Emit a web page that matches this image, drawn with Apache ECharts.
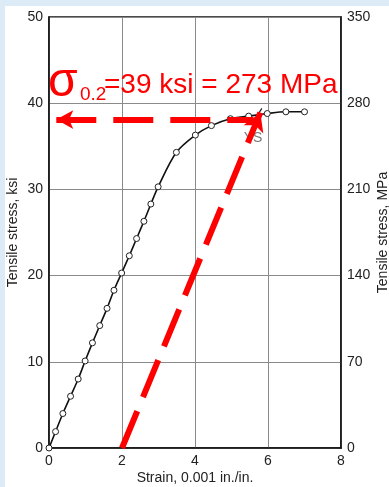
<!DOCTYPE html>
<html>
<head>
<meta charset="utf-8">
<script src="https://cdn.jsdelivr.net/npm/echarts@6/dist/echarts.min.js"></script>
<style>
html,body{margin:0;padding:0;background:#ffffff;}
#chart{width:389px;height:487px;}
</style>
</head>
<body>
<div id="chart"></div>
<script>
// Data
var strain = [0, 0.18, 0.38, 0.59, 0.8, 0.99, 1.19, 1.39, 1.59, 1.78, 1.99, 2.2, 2.4, 2.6, 2.79, 2.99, 3.49, 4.01, 4.45, 4.97, 5.47, 5.98, 6.49, 7.0];
var stressKsi = [0, 1.9, 4.0, 6.0, 8.0, 10.1, 12.2, 14.2, 16.2, 18.3, 20.3, 22.3, 24.3, 26.3, 28.3, 30.3, 34.3, 36.3, 37.4, 38.2, 38.5, 38.8, 39.0, 39.0];
var xTicks = [0, 2, 4, 6, 8];
var ksiTicks = [0, 10, 20, 30, 40, 50];
var mpaTicks = [0, 70, 140, 210, 280, 350];
// 0.2% offset construction
var offsetStart = [2, 0];
var offsetEnd = [5.79, 38.9];
var yieldLevel = 38.1;
var yieldArrowFrom = 5.6;
var yieldArrowTo = 0.2;
var ysLabelPos = [5.59, 36.0];
var ysTick = [[5.7, 38.5], [5.83, 39.4]];

var FONT = 'Liberation Sans, Arial, sans-serif';
var chart = echarts.init(document.getElementById('chart'), null, {renderer: 'canvas'});
var pts = strain.map(function (s, i) { return [s, stressKsi[i]]; });

var option = {
  animation: false,
  backgroundColor: '#ffffff',
  textStyle: {fontFamily: FONT},
  grid: {left: 49, right: 48, top: 17, bottom: 39, show: true, borderColor: '#111', borderWidth: 1.5,
         containLabel: false, outerBoundsMode: 'none'},
  xAxis: {
    type: 'value', min: xTicks[0], max: xTicks[xTicks.length - 1], interval: 2,
    axisLine: {show: true, lineStyle: {color: '#111', width: 1.5}},
    axisTick: {show: false},
    splitLine: {show: true, lineStyle: {color: '#8a8a8a', width: 1}},
    axisLabel: {fontSize: 14, color: '#222', margin: 6, fontFamily: FONT},
    name: 'Strain, 0.001 in./in.', nameLocation: 'middle', nameGap: 23, nameMoveOverlap: false,
    nameTextStyle: {fontSize: 14, color: '#222', fontFamily: FONT}
  },
  yAxis: [{
    type: 'value', min: ksiTicks[0], max: ksiTicks[ksiTicks.length - 1], interval: 10, position: 'left',
    axisLine: {show: true, lineStyle: {color: '#111', width: 1.5}},
    axisTick: {show: false},
    splitLine: {show: true, lineStyle: {color: '#8a8a8a', width: 1}},
    axisLabel: {fontSize: 14, color: '#222', margin: 6, fontFamily: FONT},
    name: 'Tensile stress, ksi', nameLocation: 'middle', nameGap: 29, nameMoveOverlap: false,
    nameTextStyle: {fontSize: 14, color: '#222', fontFamily: FONT}
  }, {
    type: 'value', min: mpaTicks[0], max: mpaTicks[mpaTicks.length - 1], interval: 70, position: 'right',
    axisLine: {show: true, lineStyle: {color: '#111', width: 1.5}},
    axisTick: {show: false},
    splitLine: {show: false},
    axisLabel: {fontSize: 14, color: '#222', margin: 6, fontFamily: FONT},
    name: 'Tensile stress, MPa', nameLocation: 'middle', nameGap: 35, nameMoveOverlap: false,
    nameTextStyle: {fontSize: 14, color: '#222', fontFamily: FONT}
  }],
  series: [{
    type: 'line',
    data: pts,
    smooth: 0.3,
    symbol: 'circle',
    symbolSize: 6,
    showAllSymbol: true,
    lineStyle: {color: '#111', width: 1.6},
    itemStyle: {color: '#ffffff', borderColor: '#222', borderWidth: 1},
    z: 3,
    markLine: {
      silent: true,
      animation: false,
      label: {show: false},
      symbol: ['none', 'none'],
      data: [
        [{coord: ysTick[0], symbol: 'none', lineStyle: {color: '#222', width: 1.2, type: 'solid'}},
         {coord: ysTick[1], symbol: 'none'}]
      ]
    }
  }, {
    type: 'scatter',
    data: [ysLabelPos],
    symbolSize: 0,
    silent: true,
    z: 4,
    label: {show: true, formatter: 'YS', position: 'inside', fontSize: 14, color: '#555', fontFamily: FONT}
  }, {
    type: 'line',
    data: [],
    z: 5,
    markLine: {
      silent: true,
      animation: false,
      label: {show: false},
      data: [
        [{coord: [yieldArrowTo, yieldLevel], symbol: 'arrow', symbolSize: [14, 17],
          lineStyle: {color: '#ff0000', width: 6, type: [40, 17], cap: 'butt'}},
         {coord: [yieldArrowFrom, yieldLevel], symbol: 'none'}],
        [{coord: offsetStart, symbol: 'none',
          lineStyle: {color: '#ff0000', width: 6, type: [40, 15], cap: 'butt'}},
         {coord: offsetEnd, symbol: 'arrow', symbolSize: [16, 18]}]
      ]
    }
  }],
  graphic: [
    {type: 'rect', left: 0, top: 0, shape: {width: 389, height: 6}, style: {fill: '#dcebf6'}, z: 100},
    {type: 'rect', left: 0, top: 0, shape: {width: 5, height: 487}, style: {fill: '#dcebf6'}, z: 100},
    {type: 'text', x: 48, y: 59, style: {text: 'σ', fontSize: 48, fill: '#ff0000', fontFamily: FONT, verticalAlign: 'top'}, z: 110},
    {type: 'text', x: 80, y: 85, style: {text: '0.2', fontSize: 19, fill: '#ff0000', fontFamily: FONT, verticalAlign: 'top'}, z: 110},
    {type: 'text', x: 104, y: 71, style: {text: '=39 ksi = 273 MPa', fontSize: 28, fill: '#ff0000', fontFamily: FONT, verticalAlign: 'top'}, z: 110}
  ]
};
chart.setOption(option);
</script>
</body>
</html>
